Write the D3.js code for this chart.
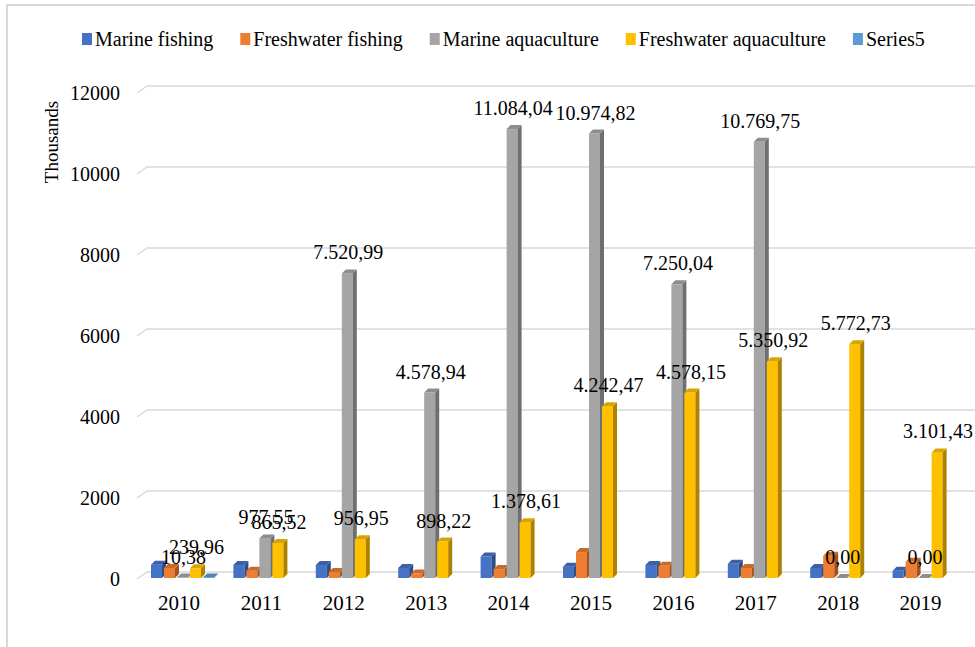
<!DOCTYPE html>
<html>
<head>
<meta charset="utf-8">
<script src="https://cdn.jsdelivr.net/npm/d3@7"></script>
<style>
  body { margin: 0; background: #fff; }
  svg text { font-family: "Times New Roman", "Liberation Serif", serif; fill: #000; }
</style>
</head>
<body>
<div id="chart"></div>
<script>
// données (milliers)
const years = ['2010', '2011', '2012', '2013', '2014', '2015', '2016', '2017', '2018', '2019'];
const seriesNames = ['Marine fishing', 'Freshwater fishing', 'Marine aquaculture', 'Freshwater aquaculture', 'Series5'];
const marineFishing = [330, 320, 320, 250, 530, 280, 320, 350, 250, 180];
const freshwaterFishing = [250, 180, 150, 110, 220, 640, 300, 250, 550, 400];
const marineAquaculture = [10.38, 977.55, 7520.99, 4578.94, 11084.04, 10974.82, 7250.04, 10769.75, 0, 0];
const freshwaterAquaculture = [239.96, 865.52, 956.95, 898.22, 1378.61, 4242.47, 4578.15, 5350.92, 5772.73, 3101.43];
const series5 = [15, null, null, null, null, null, null, null, null, null];
const yTicks = [0, 2000, 4000, 6000, 8000, 10000, 12000];
const colors = ['#4472c4', '#ed7d31', '#a5a5a5', '#ffc000', '#5b9bd5'];
const labelled = [false, false, true, true, false];

const allSeries = [marineFishing, freshwaterFishing, marineAquaculture, freshwaterAquaculture, series5];

const W = 975, H = 647;
const depth = 4; // décalage 3D

const svg = d3.select('#chart').append('svg')
    .attr('width', W)
    .attr('height', H);

// Cadre
svg.append('path')
    .attr('d', `M7,${H} L7,5 L${W},5`)
    .attr('fill', 'none')
    .attr('stroke', '#d9d9d9')
    .attr('stroke-width', 2);

// Échelles
const x0 = d3.scaleBand()
    .domain(years)
    .range([137.8, 961.8]);

const x1 = d3.scaleBand()
    .domain(seriesNames)
    .range([-28, 37]);

const y = d3.scaleLinear()
    .domain([0, 12000])
    .range([578, 92]);

// Grille (mur du fond)
const grid = svg.append('g');
yTicks.forEach(t => {
    grid.append('path')
        .attr('d', `M137,${y(t) + 1} L147,${y(t) - 6} L${W},${y(t) - 6}`)
        .attr('fill', 'none')
        .attr('stroke', '#d9d9d9')
        .attr('stroke-width', 1.5);
    grid.append('text')
        .attr('x', 120)
        .attr('y', y(t) + 8)
        .attr('text-anchor', 'end')
        .style('font-size', '20px')
        .text(t);
});

// Titre de l'axe Y
svg.append('text')
    .attr('transform', 'translate(58,142) rotate(-90)')
    .attr('text-anchor', 'middle')
    .style('font-size', '19px')
    .text('Thousands');

// Étiquettes des années
svg.append('g').selectAll('text')
    .data(years)
    .join('text')
    .attr('x', d => x0(d) + x0.bandwidth() / 2)
    .attr('y', 610)
    .attr('text-anchor', 'middle')
    .style('font-size', '21px')
    .text(d => d);

// Barres 3D
const bars = svg.append('g');
years.forEach((yr, i) => {
    const cx = x0(yr) + x0.bandwidth() / 2;
    seriesNames.forEach((s, k) => {
        const v = allSeries[k][i];
        if (v === null) return;
        const xl = cx + x1(s);
        const w = x1.bandwidth() - 2;
        const yt = y(v);
        const yb = y(0);
        const base = d3.color(colors[k]);
        // face avant
        bars.append('rect')
            .attr('x', xl)
            .attr('y', yt)
            .attr('width', w)
            .attr('height', Math.max(0, yb - yt))
            .attr('fill', colors[k]);
        // côté droit
        bars.append('path')
            .attr('d', `M${xl + w},${yt} L${xl + w + depth},${yt - depth} L${xl + w + depth},${yb - depth} L${xl + w},${yb} Z`)
            .attr('fill', base.darker(1.1));
        // dessus
        bars.append('path')
            .attr('d', `M${xl},${yt} L${xl + depth},${yt - depth} L${xl + w + depth},${yt - depth} L${xl + w},${yt} Z`)
            .attr('fill', base.darker(0.45));
    });
});

// Étiquettes de données
const fmt = v => {
    const [ent, dec] = v.toFixed(2).split('.');
    return ent.replace(/\B(?=(\d{3})+(?!\d))/g, '.') + ',' + dec;
};
const labels = svg.append('g');
seriesNames.forEach((s, k) => {
    if (!labelled[k]) return;
    years.forEach((yr, i) => {
        const v = allSeries[k][i];
        if (v === null) return;
        const cx = x0(yr) + x0.bandwidth() / 2;
        labels.append('text')
            .attr('x', cx + x1(s) + x1.bandwidth() / 2)
            .attr('y', y(v) - 14)
            .attr('text-anchor', 'middle')
            .style('font-size', '20px')
            .text(fmt(v));
    });
});

// Légende
const legend = svg.append('g');
let lx = 82;
seriesNames.forEach((s, k) => {
    legend.append('rect')
        .attr('x', lx)
        .attr('y', 33)
        .attr('width', 10)
        .attr('height', 12)
        .attr('fill', colors[k]);
    const t = legend.append('text')
        .attr('x', lx + 13)
        .attr('y', 46)
        .style('font-size', '20px')
        .text(s);
    lx += 13 + t.node().getComputedTextLength() + 27;
});
</script>
</body>
</html>
